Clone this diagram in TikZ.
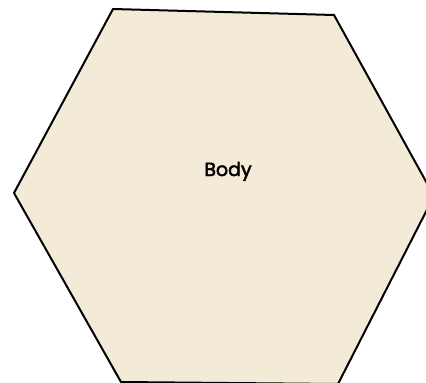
\documentclass[tikz,border=0pt]{standalone}
\usepackage{fontspec}
\newfontfamily\labelfont{Poppins}
\definecolor{bodyfill}{HTML}{F3EBD7}
\tikzset{hexbody/.style={draw=black, fill=bodyfill, line width=2pt, line join=miter},
  bodylabel/.style={font=\labelfont\fontsize{19}{22}\selectfont, text=black, inner sep=0pt}}
\begin{document}
\begin{tikzpicture}[x=1pt,y=-1pt]
\useasboundingbox (0,0) rectangle (426,383);
\clip (0,0) rectangle (426,383);
\draw[hexbody] (113,9) -- (334,15) -- (434,196) -- (338,384) -- (121,382) -- (14,193) -- cycle;
\node[bodylabel, anchor=base] (body) at (228,176) {\addfontfeature{FakeBold=2.5}Body};
\end{tikzpicture}
\end{document}
